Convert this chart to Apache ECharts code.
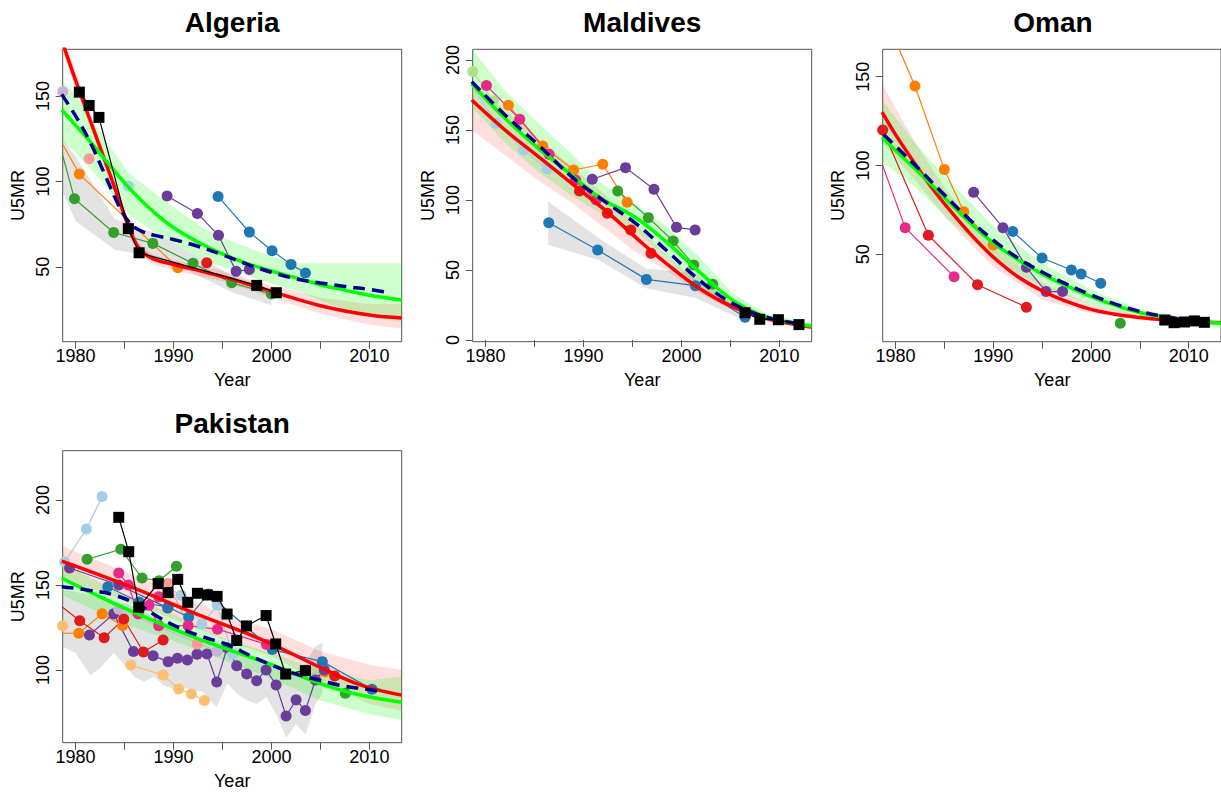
<!DOCTYPE html>
<html>
<head>
<meta charset="utf-8">
<script src="https://cdn.jsdelivr.net/npm/echarts@6/dist/echarts.min.js"></script>
<style>
  html, body { margin: 0; padding: 0; background: #fff; }
  #chart { width: 1221px; height: 795px; }
</style>
</head>
<body>
<div id="chart"></div>
<script>
// ---------- axes ----------
const xRange = [1978.7, 2013.3];
const xTickYears = [1980, 1985, 1990, 1995, 2000, 2005, 2010];
const xLabelYears = [1980, 1990, 2000, 2010];

const algeriaYRange = [6.1, 177.4];
const algeriaYTicks = [50, 100, 150];
const maldivesYRange = [-1.2, 207.6];
const maldivesYTicks = [0, 50, 100, 150, 200];
const omanYRange = [0.8, 165.4];
const omanYTicks = [50, 100, 150];
const pakistanYRange = [57.2, 229];
const pakistanYTicks = [100, 150, 200];

const countries = ['Algeria', 'Maldives', 'Oman', 'Pakistan'];

// ---------- Algeria ----------
const algBlack   = [[1980.4,152.3],[1981.4,144.5],[1982.4,137.5],[1985.4,72.3],[1986.5,58.2],[1998.5,39.1],[2000.5,34.8]];
const algGreen   = [[1978.0,130],[1979.9,89.8],[1983.9,70.1],[1987.9,63.7],[1992.0,52],[1995.95,40.6],[2000.0,34]];
const algOrange  = [[1978.0,129],[1980.4,104.3],[1990.45,49.4]];
const algSalmon  = [[1981.4,113.3]];
const algLBlue   = [[1985.4,97.3]];
const algRed     = [[1993.4,52.3]];
const algLPurple = [[1978.7,152.5]];
const algPurple  = [[1989.35,91.4],[1992.45,81.25],[1994.6,68.4],[1996.4,47.3],[1997.75,48.4]];
const algBlue    = [[1994.56,91.2],[1997.75,70.3],[2000.07,59.4],[2002.0,51.4],[2003.47,46.3]];

const algFitRed   = [[1978.7,181],[1980,159.5],[1982,128],[1984,96.5],[1985.2,77],[1986,65.5],[1986.8,58.8],[1988,54.5],[1990,51.3],[1993,47.2],[1996,42.6],[2000,35.6],[2005,27.2],[2010,21.7],[2013.3,20]];
const algFitGreen = [[1978.6,142],[1980,133],[1982,120],[1984,106],[1986,93],[1988,82],[1990,73],[1992.5,64.5],[1995,57.5],[1997.5,52],[2000,47.5],[2002.5,43.5],[2005,39.5],[2007.5,36.3],[2010,33.3],[2013.3,30.5]];
const algFitNavy  = [[1978.6,151],[1980,138.5],[1981.5,123],[1983,104],[1984.5,85],[1985.5,76],[1986.5,71.5],[1988,68.5],[1990,66],[1992.5,62],[1995,57],[1997.5,51.5],[2000,46.8],[2002.5,43],[2005,40.5],[2007.5,38.5],[2010,36.7],[2011.6,35.2]];

const algRedBandX  = [1978.7,1980,1982,1984,1985.2,1986.4,1988,1990,1995,2000,2005,2010,2013.3];
const algRedBandLo = [176,154,124,92,72,58,51,48,41.5,32,22.5,16,13.8];
const algRedBandHi = [186,165,132,100,81,64,57,54,47.5,39,32,28,28.5];
const algGreenBandX  = [1978.6,1980,1982.65,1985.4,1988.8,1992.9,1995,2000,2003,2005,2010,2013.3];
const algGreenBandLo = [124,117,100,81,67,54,50,40,35,30,21,17.5];
const algGreenBandHi = [159,151,128,105,90,73,67,56,52,52,52,52];
const algGreyBandX  = [1978.6,1980,1984,1988,1992,1996,2000];
const algGreyBandLo = [95,77,60,56,46,35,27.5];
const algGreyBandHi = [125,115,78,70,57,45,37];

// ---------- Maldives ----------
const malBlack   = [[2006.5,19.5],[2008.0,14.8],[2009.9,14.5],[2012.0,11.0]];
const malBlue    = [[1986.46,83.8],[1991.46,64.3],[1996.43,43.3],[2001.43,38.8],[2006.5,16.2]];
const malOrange  = [[1982.35,167.6],[1985.85,138.6],[1989.0,121.4],[1991.97,125.5],[1994.46,98.3]];
const malMagenta = [[1980.1,181.7],[1983.5,157.6],[1986.5,132.6],[1989.2,114.3],[1991.3,100]];
const malRed     = [[1989.6,106.4],[1992.45,90.5],[1994.83,78.6],[1996.9,62]];
const malPurple  = [[1990.9,114.8],[1994.3,123.1],[1997.2,107.6],[1999.5,80.5],[2001.4,78.6]];
const malGreen   = [[1993.5,106.4],[1996.63,87.4],[1999.15,70.7],[2001.26,53.6],[2003.2,39.8]];
const malLGreen  = [[1978.7,191.7],[1980.8,170.7]];
const malLBlue   = [[1978.2,186],[1981.1,154.8],[1983.9,135.7],[1986.3,122.3]];

const malFitRed   = [[1978.6,171.4],[1982,150],[1985.4,131],[1988.8,111.9],[1992.2,92.9],[1995.3,73.5],[1998.4,55],[2001.8,37],[2005.2,23.8],[2008.6,15.5],[2012.45,10],[2013.3,9.3]];
const malFitGreen = [[1978.6,183],[1982,158.3],[1985.4,136.9],[1988.8,117.9],[1991.6,102],[1995.3,87.5],[1998.4,70.5],[2001.8,48.8],[2005.2,28.6],[2008.6,16.7],[2012.45,10.7],[2013.3,10]];
const malFitNavy  = [[1978.6,184.5],[1982,160.7],[1985.4,139.3],[1988.8,116.7],[1992.2,98.8],[1995.3,83.5],[1998.4,64.5],[2001.8,43],[2005.2,26.2],[2008.6,16.5],[2012,11.5]];

const malRedBandX  = [1978.6,1982,1985.4,1988.8,1992.2,1995.3,1998.4,2001.8,2005.2,2008.6,2013.3];
const malRedBandLo = [150,132,114,98,80,63,50,33.5,21.5,13.5,7.5];
const malRedBandHi = [186,164,144,124,104,83,61,41,26.5,17.5,11];
const malGreenBandX  = [1978.6,1982,1985.4,1988.8,1991.6,1995.3,1998.4,2001.8,2005.2,2008.6,2013.3];
const malGreenBandLo = [166,141,120,103,91,78,59,38,23.5,14.5,8.3];
const malGreenBandHi = [208,178,155,133,113,97,82,59.5,33.5,19,12];
const malGreyBandX  = [1986.4,1991.6,1996.4,2001.5,2006.4];
const malGreyBandLo = [68,57,37,30,14];
const malGreyBandHi = [99,72.6,51,47.6,19];

// ---------- Oman ----------
const omaBlack   = [[2007.55,13],[2008.5,11.5],[2009.56,11.9],[2010.58,12.5],[2011.6,11.7]];
const omaOrange  = [[1979.4,178],[1982.0,144.7],[1985.0,97.8],[1987.0,74],[1990.0,55.3]];
const omaMagenta = [[1978.3,106],[1981.0,65],[1986.0,37.4]];
const omaRed     = [[1978.7,120],[1983.37,60.7],[1988.4,32.9],[1993.4,20.2]];
const omaPurple  = [[1988.0,84.9],[1991.0,65],[1993.4,42.7],[1995.4,29],[1997.1,29]];
const omaBlue    = [[1992.0,62.8],[1995.0,47.9],[1998.0,41.2],[1999.0,38.9],[2001.0,33.7]];
const omaGreen   = [[2003.0,11.2]];

const omaFitRed   = [[1978.64,130],[1980,117.5],[1982,101],[1984,85.5],[1986,72],[1988,59.5],[1990,48.5],[1992.5,37.5],[1995,29.5],[1997.5,23.5],[2000,19],[2002.5,16.2],[2005,14.4],[2007.5,13.1],[2010,12.2],[2013.3,11.4]];
const omaFitGreen = [[1978.64,116],[1980,108.5],[1982.5,95.5],[1985,82],[1987.5,68.5],[1990,56.5],[1992.5,47],[1995,39],[1997.5,32.2],[2000,26.2],[2002.5,21.2],[2005,17.2],[2007.5,14.6],[2010,12.7],[2013.3,11.2]];
const omaFitNavy  = [[1978.8,117.5],[1980,111],[1982.5,97.5],[1985,83.5],[1987.5,70],[1990,58],[1992.5,48],[1995,40],[1997.5,33.2],[2000,27.2],[2002.5,22],[2005,17.8],[2007.5,15],[2010,13],[2012,12]];

const omaRedBandX  = [1978.64,1982,1985.2,1990,1995,2000,2005,2010,2013.3];
const omaRedBandLo = [113,92,70,43,24.5,16.8,13,11,10];
const omaRedBandHi = [146,113,86,55,34,21.5,15.8,13,12.7];
const omaGreenBandX  = [1978.64,1982,1985.2,1990,1995,2000,2005,2010,2013.3];
const omaGreenBandLo = [102,88,71,47,32,21.5,15,11.2,8.4];
const omaGreenBandHi = [137,113,93,66,45,30,19,14,13];

// ---------- Pakistan ----------
const pakBlack   = [[1984.42,189.8],[1985.44,169.6],[1986.46,136.9],[1988.44,150.8],[1989.46,145.5],[1990.44,153.3],[1991.46,139.8],[1992.45,145.1],[1993.47,144.1],[1994.46,143.3],[1995.48,132.9],[1996.46,117.3],[1997.45,125.9],[1999.46,132],[2000.44,115.3],[2001.46,97.6],[2003.47,99.6]];
const pakLBlue   = [[1978.9,163.5],[1981.12,182.9],[1982.72,202]];
const pakLBlue2  = [[1988.5,151.5],[1990.8,144],[1992.9,127],[1994.46,138],[1996.05,109.3]];
const pakGreen   = [[1981.19,165.1],[1984.63,171],[1986.8,154.1],[1988.54,152.5],[1990.31,161]];
const pakGreen2  = [[2007.55,86.3]];
const pakPurple1 = [[1979.4,160],[1984.42,150],[1989.42,136.5]];
const pakBlue    = [[1983.3,149],[1986.5,140],[1989.46,137],[1991.56,131],[1993.57,144.7],[2000.1,112],[2005.2,104.9],[2010.27,88.6]];
const pakRed     = [[1978.0,140],[1980.44,129],[1982.93,119],[1984.93,130],[1986.94,110.6],[1988.95,117.6]];
const pakRed2    = [[2006.46,96.5]];
const pakOrange  = [[1978.0,121.6],[1980.34,121.6],[1982.72,133],[1984.8,126.1]];
const pakOrange2 = [[2005.48,99]];
const pakLOrange = [[1985.65,102.9],[1988.95,97],[1990.54,88.8],[1991.84,85.9],[1993.16,82]];
const pakLOrange0 = [[1978.7,126]];
const pakPurple  = [[1981.43,120.6],[1983.91,133],[1985.92,110.8],[1987.93,108.4],[1989.46,104.9],[1990.41,106.9],[1991.43,105.9],[1992.41,109.2],[1993.43,109.4],[1994.42,92.9],[1995.48,113],[1996.46,102.5],[1997.48,97.6],[1998.5,93.7],[1999.46,100],[2000.48,91.2],[2001.5,72.9],[2002.52,82.4],[2003.47,76.1],[2004.49,94.1],[2005.4,100]];
const pakLPurple = [[1984.42,135.7],[1994.46,111]];
const pakSalmon  = [[1989.46,151],[1992.45,115.3]];
const pakMagenta = [[1984.42,157],[1985.4,150],[1986.4,133],[1987.5,138],[1988.5,126],[1991.5,126],[1994.5,124],[1999.5,115]];
const pakMagenta2 = [[1988.5,143]];

const pakFitRed   = [[1978.6,164],[1985.4,149.4],[1992.2,133.3],[1999.1,117.6],[2005.9,99],[2009.3,90.8],[2013.3,85.2]];
const pakFitGreen = [[1978.6,154],[1985.4,135.3],[1992.2,119],[1999.1,105],[2005.9,90.2],[2009.3,85],[2013.3,81]];
const pakFitNavy  = [[1978.6,149],[1981.5,146.8],[1984,144],[1986.5,138],[1988.5,131],[1990.5,125],[1993,119.5],[1995.5,115],[1998,108],[2000,103],[2002,98.5],[2004.5,94.5],[2007,91],[2009.5,88.8],[2011.4,87.3]];

const pakRedBandX  = [1978.6,1985,1990,1995,2000,2005,2010,2013.3];
const pakRedBandLo = [154,141,130,118,108,93,80,76];
const pakRedBandHi = [173,158,146,133,124,111,103,100];
const pakGreenBandX  = [1978.6,1985,1990,1995,2000,2005,2010,2013.3];
const pakGreenBandLo = [144,127,117,106,95,82,74,70.5];
const pakGreenBandHi = [163,144,133,119,110,100,94,96];
const pakGreyBandX  = [1978.6,1980,1981.5,1982.5,1983.9,1985,1986,1987,1988,1989,1990,1991,1992,1993,1994.4,1995.5,1996.5,1997.5,1998.5,1999.5,2000.5,2001.5,2002.5,2003.5,2004.5,2005.2];
const pakGreyBandLo = [114,110,97,101,110,103,96,93,96,91,89,90,88,87,78,92,86,82,80,84,74,60,68,62,80,86];
const pakGreyBandHi = [147,146,144,142,140,139,137,134,131,128,125,123,120,118,117,115,113,110,107,105,103,100,99,104,114,116];

// ---------- drawing ----------
const COL = {
  lblue: '#A6CEE3', blue: '#1F78B4', lgreen: '#B2DF8A', green: '#33A02C',
  salmon: '#FB9A99', red: '#E31A1C', lorange: '#FDBF6F', orange: '#FF7F00',
  lpurple: '#CAB2D6', purple: '#6A3D9A', magenta: '#E7298A'
};
const FONT = '"Liberation Sans", Arial, Helvetica, sans-serif';

const gridBoxes = [
  { left: 62.7, top: 49.3, width: 339, height: 292.4 },
  { left: 472.7, top: 49.3, width: 339, height: 292.4 },
  { left: 882.7, top: 49.3, width: 339, height: 292.4 },
  { left: 62.7, top: 450.7, width: 339, height: 292 }
];
const yRanges = [algeriaYRange, maldivesYRange, omanYRange, pakistanYRange];
const yTicks = [algeriaYTicks, maldivesYTicks, omanYTicks, pakistanYTicks];

const series = [];

// shaded interval between a lower and an upper boundary
function band(g, xs, lo, hi, fill) {
  series.push({
    type: 'custom', xAxisIndex: g, yAxisIndex: g, clip: true, silent: true, z: 1,
    data: [[xs[0], lo[0]]],
    renderItem: function (params, api) {
      const pts = [];
      for (let i = 0; i < xs.length; i++) pts.push(api.coord([xs[i], hi[i]]));
      for (let i = xs.length - 1; i >= 0; i--) pts.push(api.coord([xs[i], lo[i]]));
      return { type: 'polygon', shape: { points: pts }, style: { fill: fill } };
    }
  });
}
function survey(g, data, color) {
  series.push({
    type: 'line', xAxisIndex: g, yAxisIndex: g, data: data, clip: true, silent: true, z: 2,
    symbol: 'circle', symbolSize: 11, showAllSymbol: true,
    lineStyle: { color: color, width: 1.2 },
    itemStyle: { color: color, borderWidth: 0 }
  });
}
function squares(g, data) {
  series.push({
    type: 'line', xAxisIndex: g, yAxisIndex: g, data: data, clip: true, silent: true, z: 5,
    symbol: 'rect', symbolSize: 11, showAllSymbol: true,
    lineStyle: { color: '#000', width: 1.2 },
    itemStyle: { color: '#000', borderWidth: 0 }
  });
}
function fit(g, data, color, dashed) {
  series.push({
    type: 'line', xAxisIndex: g, yAxisIndex: g, data: data, clip: true, silent: true,
    z: dashed ? 4 : 3, symbol: 'none', smooth: 0.4,
    lineStyle: { color: color, width: 3.5, type: dashed ? [12, 7] : 'solid', cap: 'butt' }
  });
}

const GREEN_BAND = 'rgba(0,255,0,0.2)';
const RED_BAND = 'rgba(255,0,0,0.13)';
const GREY_BAND = 'rgba(128,128,128,0.22)';

// Algeria
band(0, algGreyBandX, algGreyBandLo, algGreyBandHi, GREY_BAND);
band(0, algRedBandX, algRedBandLo, algRedBandHi, RED_BAND);
band(0, algGreenBandX, algGreenBandLo, algGreenBandHi, GREEN_BAND);
survey(0, algGreen, COL.green);
survey(0, algOrange, COL.orange);
survey(0, algSalmon, COL.salmon);
survey(0, algLBlue, COL.lblue);
survey(0, algRed, COL.red);
survey(0, algLPurple, COL.lpurple);
survey(0, algPurple, COL.purple);
survey(0, algBlue, COL.blue);
fit(0, algFitRed, '#FF0000');
fit(0, algFitGreen, '#00FF00');
fit(0, algFitNavy, '#00008B', true);
squares(0, algBlack);

// Maldives
band(1, malGreyBandX, malGreyBandLo, malGreyBandHi, GREY_BAND);
band(1, malRedBandX, malRedBandLo, malRedBandHi, RED_BAND);
band(1, malGreenBandX, malGreenBandLo, malGreenBandHi, GREEN_BAND);
survey(1, malLGreen, COL.lgreen);
survey(1, malLBlue, COL.lblue);
survey(1, malBlue, COL.blue);
survey(1, malOrange, COL.orange);
survey(1, malMagenta, COL.magenta);
survey(1, malRed, COL.red);
survey(1, malPurple, COL.purple);
survey(1, malGreen, COL.green);
fit(1, malFitRed, '#FF0000');
fit(1, malFitGreen, '#00FF00');
fit(1, malFitNavy, '#00008B', true);
squares(1, malBlack);

// Oman
band(2, omaRedBandX, omaRedBandLo, omaRedBandHi, RED_BAND);
band(2, omaGreenBandX, omaGreenBandLo, omaGreenBandHi, GREEN_BAND);
survey(2, omaOrange, COL.orange);
survey(2, omaMagenta, COL.magenta);
survey(2, omaRed, COL.red);
survey(2, omaPurple, COL.purple);
survey(2, omaBlue, COL.blue);
survey(2, omaGreen, COL.green);
fit(2, omaFitRed, '#FF0000');
fit(2, omaFitGreen, '#00FF00');
fit(2, omaFitNavy, '#00008B', true);
squares(2, omaBlack);

// Pakistan
band(3, pakGreyBandX, pakGreyBandLo, pakGreyBandHi, GREY_BAND);
band(3, pakRedBandX, pakRedBandLo, pakRedBandHi, RED_BAND);
band(3, pakGreenBandX, pakGreenBandLo, pakGreenBandHi, GREEN_BAND);
survey(3, pakLOrange0, COL.lorange);
survey(3, pakLOrange, COL.lorange);
survey(3, pakOrange, COL.orange);
survey(3, pakOrange2, COL.orange);
survey(3, pakRed, COL.red);
survey(3, pakRed2, COL.red);
survey(3, pakPurple, COL.purple);
survey(3, pakLPurple, COL.lpurple);
survey(3, pakSalmon, COL.salmon);
survey(3, pakLBlue, COL.lblue);
survey(3, pakLBlue2, COL.lblue);
survey(3, pakPurple1, COL.purple);
survey(3, pakBlue, COL.blue);
survey(3, pakMagenta, COL.magenta);
survey(3, pakMagenta2, COL.magenta);
survey(3, pakGreen, COL.green);
survey(3, pakGreen2, COL.green);
fit(3, pakFitRed, '#FF0000');
fit(3, pakFitGreen, '#00FF00');
fit(3, pakFitNavy, '#00008B', true);
squares(3, pakBlack);

const grids = gridBoxes.map(b => Object.assign({
  show: true, borderColor: '#555', borderWidth: 1, backgroundColor: 'transparent', containLabel: false
}, b));

const plain = v => String(v);

const xAxes = gridBoxes.map((b, i) => ({
  type: 'value', gridIndex: i, min: xRange[0], max: xRange[1],
  axisLine: { show: false }, splitLine: { show: false },
  axisTick: { show: true, length: 7, lineStyle: { color: '#555' }, customValues: xTickYears },
  axisLabel: { customValues: xLabelYears, formatter: plain, fontSize: 18, color: '#000', margin: 5, fontFamily: FONT }
}));

const yAxes = gridBoxes.map((b, i) => ({
  type: 'value', gridIndex: i, min: yRanges[i][0], max: yRanges[i][1],
  axisLine: { show: false }, splitLine: { show: false },
  axisTick: { show: true, length: 7, lineStyle: { color: '#555' }, customValues: yTicks[i] },
  axisLabel: { customValues: yTicks[i], formatter: plain, fontSize: 18, color: '#000', margin: 11, rotate: 90, fontFamily: FONT }
}));

const texts = [];
gridBoxes.forEach((b, i) => {
  const cx = b.left + b.width / 2;
  const cy = b.top + b.height / 2;
  const bottom = b.top + b.height;
  texts.push({ type: 'text', x: (i === 2 ? 1053 : cx), y: b.top - 27,
    style: { text: countries[i], font: 'bold 28px ' + FONT, fill: '#000', textAlign: 'center', textVerticalAlign: 'middle' } });
  texts.push({ type: 'text', x: cx, y: bottom + 38.5,
    style: { text: 'Year', font: '18px ' + FONT, fill: '#000', textAlign: 'center', textVerticalAlign: 'middle' } });
  texts.push({ type: 'text', x: b.left - 44.4, y: cy, rotation: Math.PI / 2,
    style: { text: 'U5MR', font: '18px ' + FONT, fill: '#000', textAlign: 'center', textVerticalAlign: 'middle' } });
});

const chart = echarts.init(document.getElementById('chart'), null, { renderer: 'svg' });
chart.setOption({
  animation: false,
  backgroundColor: '#fff',
  grid: grids,
  xAxis: xAxes,
  yAxis: yAxes,
  series: series,
  graphic: texts
});
</script>
</body>
</html>
